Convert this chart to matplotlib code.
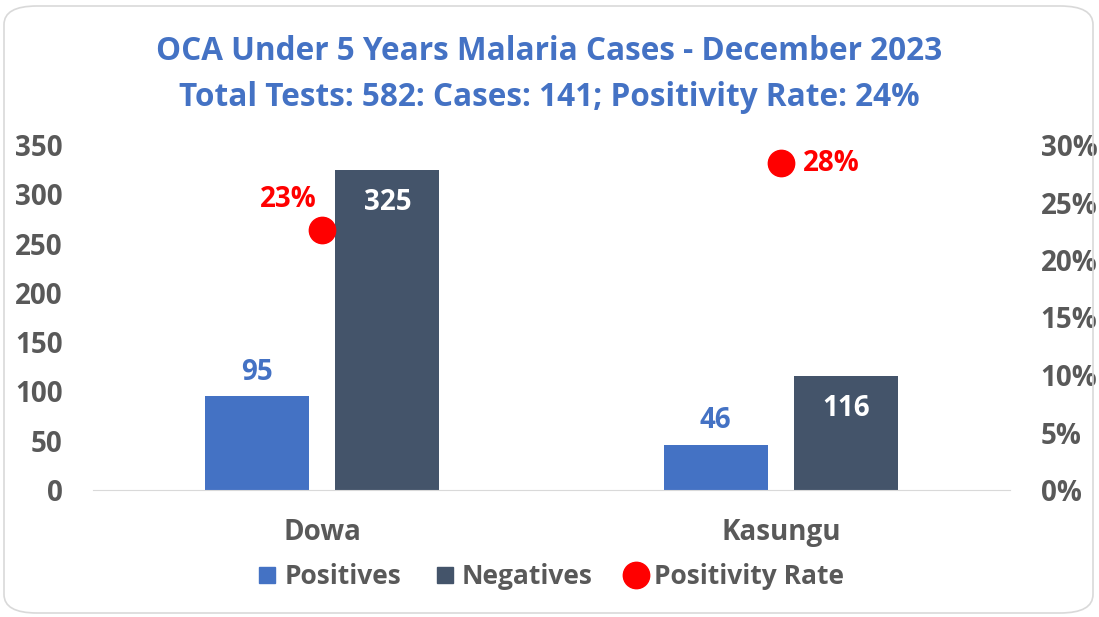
import matplotlib
matplotlib.use("Agg")
import numpy as np
from matplotlib import pyplot as plt
from matplotlib.patches import FancyBboxPatch
from matplotlib.lines import Line2D

# data
districts = ["Dowa", "Kasungu"]
positives = [95, 46]
negatives = [325, 116]
rate = [0.226, 0.284]
rate_labels = ["23%", "28%"]

blue = "#4472C4"
navy = "#44546A"
red = "#FF0000"
grey = "#595959"

plt.rcParams['font.family'] = ['Open Sans', 'DejaVu Sans']

fig = plt.figure(figsize=(10.99, 6.17), dpi=100)
ax = fig.add_axes([93/1099, 1-490/617, (1010-93)/1099, (490-145)/617])
ax2 = ax.twinx()

x = np.arange(len(districts))
w = 0.227
off = 0.142

ax.bar(x - off, positives, w, color=blue, zorder=2)
ax.bar(x + off, negatives, w, color=navy, zorder=2)

for i in x:
    ax.text(i - off, positives[i] + 10, str(positives[i]), ha="center", va="bottom",
            color=blue, fontsize=20, fontweight="bold")
    ax.text(i + off, negatives[i] - 19, str(negatives[i]), ha="center", va="top",
            color="white", fontsize=20, fontweight="bold")

ax2.scatter(x, rate, s=360, color=red, zorder=3)
ax2.annotate(rate_labels[0], (x[0], rate[0]), xytext=(-4, 22), textcoords="offset points",
             ha="right", va="center", color=red, fontsize=20, fontweight="bold")
ax2.annotate(rate_labels[1], (x[1], rate[1]), xytext=(16, 0), textcoords="offset points",
             ha="left", va="center", color=red, fontsize=20, fontweight="bold")

ax.set_xlim(-0.5, 1.5)
ax.set_ylim(0, 350)
ax2.set_ylim(0, 0.30)
ax.set_yticks(range(0, 351, 50))
ax2.set_yticks(np.arange(0, 0.31, 0.05))
ax2.set_yticklabels([f"{int(round(v*100))}%" for v in np.arange(0, 0.31, 0.05)])
ax.set_xticks(x)
ax.set_xticklabels(districts)

for a in (ax, ax2):
    for s in a.spines.values():
        s.set_visible(False)
    a.tick_params(length=0, labelsize=20, labelcolor=grey)
    for t in a.get_yticklabels() + a.get_xticklabels():
        t.set_fontweight("bold")
ax.spines["bottom"].set_visible(True)
ax.spines["bottom"].set_color("#D9D9D9")
ax.tick_params(axis="y", pad=22)
ax2.tick_params(axis="y", pad=22)
ax.tick_params(axis="x", pad=20)

fig.text(0.5, 1-51/617, "OCA Under 5 Years Malaria Cases - December 2023", ha="center", va="center",
         color=blue, fontsize=22.7, fontweight="bold")
fig.text(0.5, 1-98/617, "Total Tests: 582: Cases: 141; Positivity Rate: 24%", ha="center", va="center",
         color=blue, fontsize=22.7, fontweight="bold")

handles = [Line2D([], [], marker="s", ls="", color=blue, markersize=11),
           Line2D([], [], marker="s", ls="", color=navy, markersize=11),
           Line2D([], [], marker="o", ls="", color=red, markersize=19)]
leg = fig.legend(handles, ["Positives", "Negatives", "Positivity Rate"], loc="center",
                 bbox_to_anchor=(0.5, 1-577/617), ncol=3, frameon=False, handlelength=0.9,
                 handletextpad=0.2, columnspacing=1.2, prop={"size": 19, "weight": "bold"})
for t in leg.get_texts():
    t.set_color(grey)

border = FancyBboxPatch((4/1099, 4/617), 1-10/1099, 1-10/617, boxstyle="round,pad=0,rounding_size=0.03",
                        transform=fig.transFigure, fill=False, edgecolor="#D9D9D9", linewidth=1.2)
fig.patches.append(border)

fig.savefig("out.png", dpi=100)
